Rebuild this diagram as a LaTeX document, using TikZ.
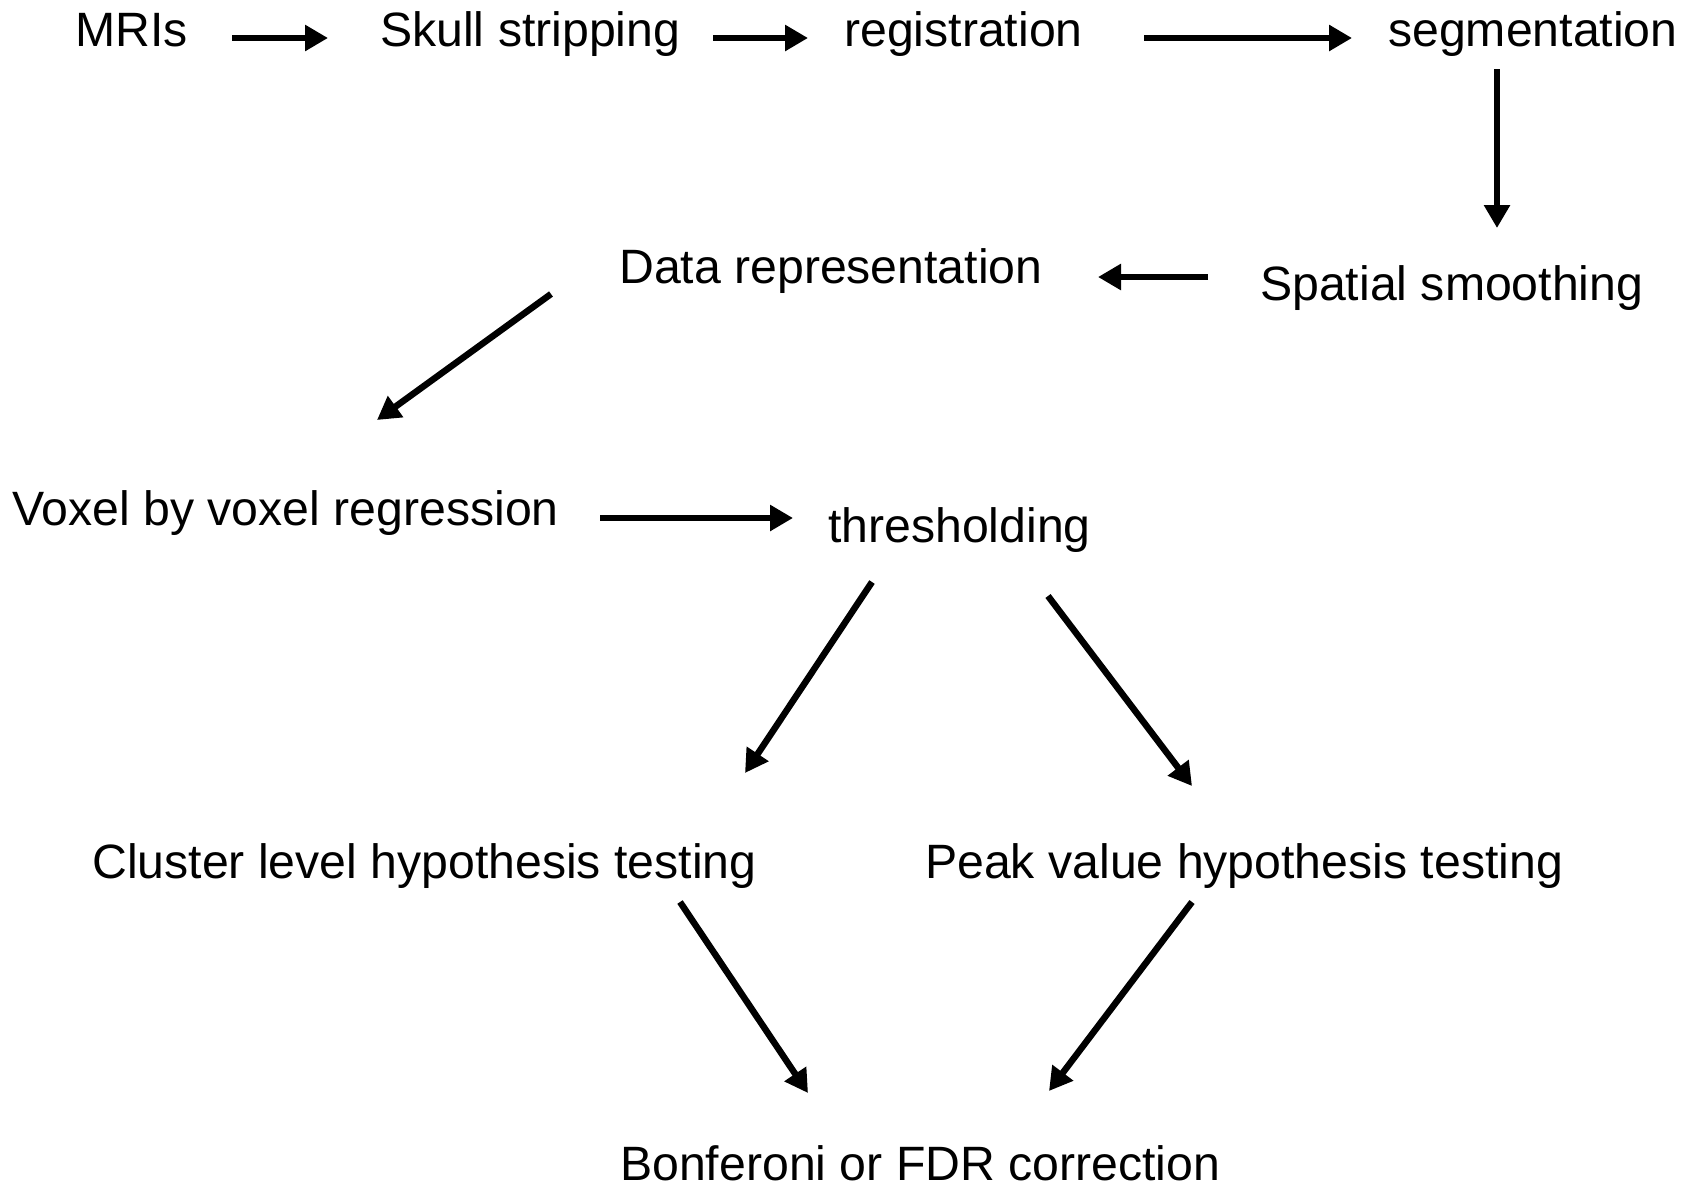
\documentclass[tikz,border=0pt]{standalone}
\usepackage{fontspec}
\setmainfont{Liberation Sans}
\usetikzlibrary{arrows.meta}
\begin{document}
\begin{tikzpicture}[x=1pt,y=-1pt,
  lbl/.style={anchor=base west,inner sep=0pt,font=\fontsize{48.2}{58}\selectfont},
  flow/.style={line width=6.5pt,-{Triangle[length=23pt,width=25pt]}}]
\useasboundingbox[fill=white] (0,0) rectangle (1696,1187);
% text nodes
\node[lbl] (mri) at (75,46) {MRIs};
\node[lbl] (skull) at (380,46) {Skull stripping};
\node[lbl] (reg) at (844,46) {registration};
\node[lbl] (seg) at (1388,46) {segmentation};
\node[lbl] (data) at (619,283) {Data representation};
\node[lbl] (spat) at (1260,300) {Spatial smoothing};
\node[lbl] (voxel) at (12,525) {Voxel by voxel regression};
\node[lbl] (thr) at (828,542) {thresholding};
\node[lbl] (clus) at (92,878) {Cluster level hypothesis testing};
\node[lbl] (peak) at (925,878) {Peak value hypothesis testing};
\node[lbl] (bonf) at (620,1180) {Bonferoni or FDR correction};
% connector end points
\coordinate (mriS) at (232,38);   \coordinate (skullE) at (328,38);
\coordinate (skullS) at (713,38); \coordinate (regE) at (808,38);
\coordinate (regS) at (1144,38);  \coordinate (segE) at (1352,38);
\coordinate (segS) at (1497,69);  \coordinate (spatE) at (1497,228);
\coordinate (spatS) at (1208,277);\coordinate (dataE) at (1098,277);
\coordinate (dataS) at (551,294); \coordinate (voxelE) at (377,420);
\coordinate (voxelS) at (600,518);\coordinate (thrE) at (793,518);
\coordinate (thrS1) at (872,582); \coordinate (clusE) at (745,773);
\coordinate (thrS2) at (1048,596);\coordinate (peakE) at (1192,786);
\coordinate (clusS) at (680,902); \coordinate (bonfE1) at (808,1093);
\coordinate (peakS) at (1192,902);\coordinate (bonfE2) at (1049,1091);
% connectors
\draw[flow] (mriS) -- (skullE);
\draw[flow] (skullS) -- (regE);
\draw[flow] (regS) -- (segE);
\draw[flow] (segS) -- (spatE);
\draw[flow] (spatS) -- (dataE);
\draw[flow] (dataS) -- (voxelE);
\draw[flow] (voxelS) -- (thrE);
\draw[flow] (thrS1) -- (clusE);
\draw[flow] (thrS2) -- (peakE);
\draw[flow] (clusS) -- (bonfE1);
\draw[flow] (peakS) -- (bonfE2);
\end{tikzpicture}
\end{document}
